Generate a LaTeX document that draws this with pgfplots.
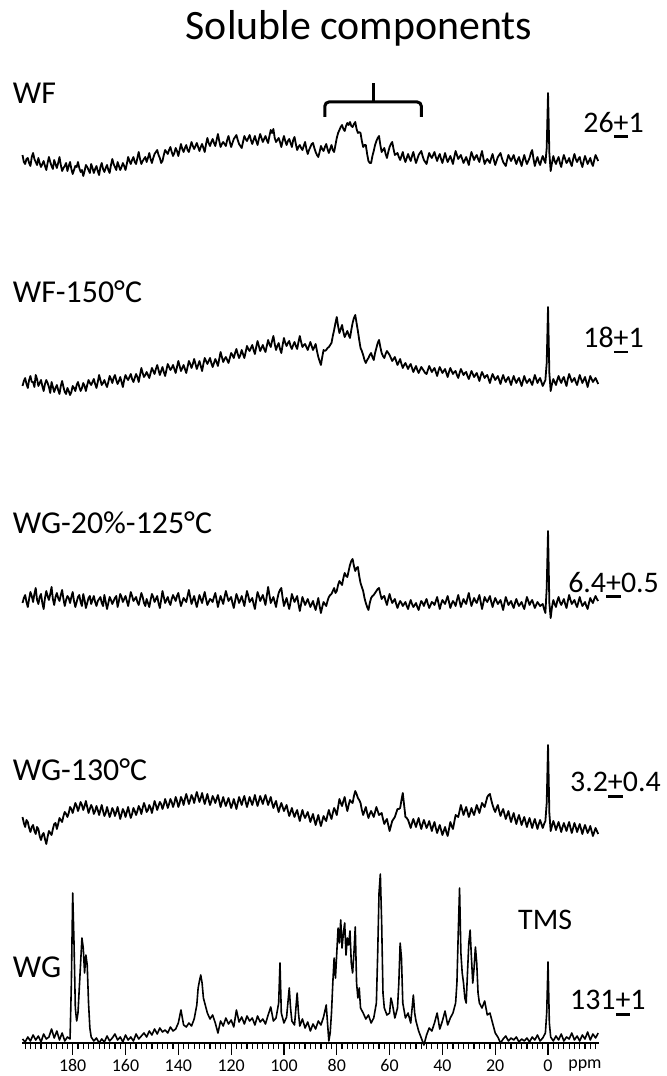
\documentclass[border=0pt]{standalone}
\usepackage{fontspec}
\setmainfont{Carlito}
\usepackage{pgfplots}
\usepackage{pgfplotstable}
\pgfplotsset{compat=1.18}
\newcommand\upm{\leavevmode\hbox{\ooalign{+\cr\hidewidth\rule[-0.2em]{0.48em}{0.09em}\hidewidth\cr}}}
\pgfplotstableread{
x wf wfa wgb wgc
199 888 657 440 226
198.5 881 662 445 220
198 879 665 448 216
197.5 884 659 441 223
197 885 655 436 221
196.5 880 663 444 215
196 877 667 451 211
195.5 886 661 447 216
195 890 661 441 218
194.5 884 656 449 212
194 881 668 455 209
193.5 878 664 443 216
193 885 657 439 214
192.5 880 660 446 207
192 876 663 449 203
191.5 879 657 440 208
191 882 652 434 210
190.5 877 659 445 204
190 873 663 452 199
189.5 880 660 447 206
189 886 656 443 212
188.5 881 650 449 210
188 877 661 456 208
187.5 874 656 444 214
187 883 651 438 219
186.5 879 655 446 220
186 875 658 450 214
185.5 880 653 445 219
185 886 649 442 225
184.5 878 657 448 223
184 872 662 453 221
183.5 875 656 444 227
183 877 651 437 231
182.5 880 649 443 229
182 872 655 447 226
181.5 877 652 445 230
181 881 648 440 236
180.5 874 651 446 234
180 869 657 451 230
179.5 873 655 442 235
179 877 652 436 240
178.5 876 658 441 237
178 881 661 446 232
177.5 875 656 448 236
177 871 652 441 241
176.5 873 655 437 238
176 867 660 449 233
175.5 872 657 443 237
175 878 652 435 242
174.5 876 658 440 236
174 873 663 445 230
173.5 870 660 447 234
173 879 658 439 238
172.5 875 661 443 235
172 870 664 447 229
171.5 874 659 441 232
171 877 655 437 237
170.5 872 661 442 233
170 868 668 444 228
169.5 876 663 446 233
169 880 658 440 238
168.5 874 660 437 232
168 871 663 448 227
167.5 875 659 441 230
167 878 656 434 236
166.5 873 661 440 231
166 870 667 446 226
165.5 878 664 443 230
165 884 660 439 235
164.5 879 665 442 232
164 876 668 445 227
163.5 873 663 447 231
163 881 659 436 236
162.5 877 662 442 230
162 873 666 449 224
161.5 876 661 446 229
161 880 656 441 234
160.5 877 663 444 231
160 873 668 447 226
159.5 879 665 442 231
159 886 663 437 236
158.5 882 666 444 230
158 879 669 451 225
157.5 883 664 447 229
157 886 661 442 235
156.5 881 665 444 232
156 879 669 446 228
155.5 885 666 441 232
155 891 661 438 237
154.5 884 668 444 234
154 879 675 450 229
153.5 882 670 446 235
153 884 666 440 240
152.5 886 668 437 236
152 881 671 444 231
151.5 885 668 440 233
151 890 665 436 238
150.5 884 670 443 235
150 880 675 449 230
149.5 885 672 446 236
149 889 669 441 242
148.5 891 674 444 238
148 893 678 447 233
147.5 888 673 440 237
147 885 668 435 241
146.5 880 672 443 239
146 882 676 452 234
145.5 888 671 446 238
145 893 667 440 244
144.5 891 673 443 240
144 889 679 446 235
143.5 893 676 441 239
143 896 673 438 244
142.5 891 675 444 241
142 887 678 448 236
141.5 890 674 445 240
141 895 670 442 246
140.5 892 676 447 242
140 887 682 450 236
139.5 893 677 443 240
139 899 672 437 246
138.5 894 675 441 243
138 891 678 445 238
137.5 895 674 443 244
137 898 670 441 249
136.5 893 676 447 244
136 891 682 453 239
135.5 896 679 446 243
135 901 675 439 248
134.5 897 679 443 245
134 894 684 447 240
133.5 897 679 441 246
133 900 674 436 251
132.5 896 678 442 246
132 892 682 448 241
131.5 896 677 444 245
131 899 672 440 250
130.5 895 679 446 244
130 891 685 451 239
129.5 899 682 444 244
129 905 679 438 249
128.5 900 682 441 243
128 897 685 444 238
127.5 901 680 443 242
127 904 676 441 247
126.5 900 680 446 244
126 897 684 450 240
125.5 903 681 443 244
125 909 677 436 248
124.5 902 684 442 242
124 896 691 447 236
123.5 899 686 443 241
123 901 681 439 246
122.5 899 684 446 241
122 897 686 452 237
121.5 903 683 447 241
121 907 680 442 245
120.5 901 685 444 240
120 896 690 446 235
119.5 900 688 440 239
119 904 685 435 244
118.5 906 690 442 239
118 908 694 449 234
117.5 903 689 445 240
117 899 685 440 246
116.5 897 688 443 242
116 895 693 447 238
115.5 901 689 442 243
115 907 685 437 247
114.5 904 691 445 241
114 902 697 452 236
113.5 905 694 447 241
113 908 692 441 246
112.5 903 695 443 242
112 899 698 445 238
111.5 903 693 439 243
111 907 689 434 248
110.5 902 696 443 242
110 898 702 451 237
109.5 904 697 447 242
109 909 692 442 247
108.5 905 695 445 243
108 901 698 448 239
107.5 904 694 443 244
107 907 691 438 248
106.5 903 697 447 243
106 900 703 456 238
105.5 907 699 448 242
105 913 696 440 246
104.5 910 702 443 240
104 914 707 446 235
103.5 905 699 441 239
103 901 693 436 242
102.5 903 697 444 236
102 905 700 450 231
101.5 901 694 453 236
101 896 690 455 240
100.5 902 698 445 236
100 907 705 437 232
99.5 902 700 441 235
99 898 697 445 238
98.5 902 700 439 232
98 904 702 434 227
97.5 900 697 441 231
97 896 694 449 235
96.5 903 698 445 230
96 906 701 441 226
95.5 899 697 444 230
95 893 694 447 233
94.5 896 701 439 227
94 898 707 432 222
93.5 895 701 439 228
93 893 696 446 233
92.5 897 698 442 228
92 901 699 438 225
91.5 894 696 441 228
91 889 693 444 231
90.5 893 697 440 226
90 896 701 436 221
89.5 899 697 439 225
89 900 693 442 229
88.5 895 696 437 223
88 891 699 433 218
87.5 888 692 439 223
87 886 686 445 228
86.5 891 682 437 222
86 897 678 430 217
85.5 894 686 436 222
85 892 693 441 227
84.5 896 692 439 224
84 899 693 437 222
83.5 894 695 442 228
83 890 696 446 233
82.5 894 698 448 228
82 898 700 449 224
81.5 893 707 452 230
81 891 713 455 235
80.5 898 720 450 232
80 905 726 452 228
79.5 910 717 458 236
79 913 710 462 244
78.5 916 714 460 240
78 918 718 458 237
77.5 914 711 465 242
77 912 706 470 246
76.5 917 709 467 238
76 920 712 466 232
75.5 918 708 472 238
75 921 705 478 243
74.5 917 713 482 241
74 916 720 484 240
73.5 919 725 477 247
73 921 728 472 252
72.5 914 720 475 249
72 910 712 476 245
71.5 911 703 467 243
71 910 695 460 240
70.5 902 692 456 233
70 896 688 452 228
69.5 898 683 445 232
69 898 680 440 236
68.5 889 683 436 230
68 882 685 433 225
67.5 880 688 440 229
67 880 690 445 232
66.5 887 686 447 229
66 892 683 448 226
65.5 898 690 450 231
65 902 695 452 236
64.5 905 700 454 232
64 907 703 455 228
63.5 898 696 449 229
63 891 690 444 230
62.5 893 687 446 224
62 895 685 447 219
61.5 889 689 442 222
61 885 692 438 224
60.5 891 690 444 218
60 896 688 449 212
59.5 899 685 444 217
59 901 682 440 222
58.5 894 684 442 224
58 888 686 444 226
57.5 889 682 439 230
57 890 678 435 234
56.5 886 681 439 234
56 883 684 442 235
55.5 887 679 440 243
55 891 675 437 250
54.5 885 678 439 238
54 881 680 441 226
53.5 885 677 437 225
53 889 674 434 223
52.5 885 677 439 219
52 882 679 443 215
51.5 887 675 439 220
51 891 671 436 224
50.5 885 674 438 220
50 880 677 440 216
49.5 884 673 436 221
49 888 670 433 225
48.5 890 673 438 219
48 892 676 442 214
47.5 887 674 440 219
47 883 672 437 223
46.5 881 670 441 219
46 879 669 444 215
45.5 885 673 439 218
45 890 677 435 222
44.5 887 674 438 217
44 885 671 441 212
43.5 888 673 440 217
43 891 675 438 221
42.5 886 671 442 215
42 882 667 446 210
41.5 886 672 440 214
41 889 676 434 218
40.5 884 673 439 213
40 880 670 443 208
39.5 885 672 441 212
39 890 674 439 216
38.5 885 670 443 211
38 881 666 447 207
37.5 884 671 441 214
37 887 675 435 221
36.5 883 672 439 217
36 879 669 442 214
35.5 886 671 440 221
35 892 672 437 228
34.5 888 668 443 227
34 884 665 448 226
33.5 886 670 442 232
33 888 674 436 238
32.5 884 671 440 233
32 880 668 444 228
31.5 883 670 441 232
31 886 671 439 236
30.5 882 667 445 231
30 878 664 450 226
29.5 885 668 443 230
29 891 672 437 235
28.5 887 669 441 231
28 883 666 445 228
27.5 886 668 442 233
27 888 670 440 238
26.5 884 666 444 234
26 881 662 448 230
25.5 887 667 441 235
25 892 671 434 240
24.5 885 668 440 238
24 879 665 446 236
23.5 882 667 443 241
23 884 668 441 246
22.5 882 664 444 248
22 880 660 447 249
21.5 885 665 441 243
21 889 669 436 238
20.5 883 666 441 234
20 878 663 445 231
19.5 882 665 442 235
19 886 667 439 238
18.5 888 663 441 232
18 890 659 443 227
17.5 885 664 438 231
17 881 668 433 234
16.5 879 664 440 229
16 877 661 446 224
15.5 883 664 442 228
15 888 666 438 232
14.5 885 662 440 226
14 882 658 442 221
13.5 885 663 438 226
13 888 667 435 230
12.5 883 663 440 224
12 879 660 444 219
11.5 883 663 440 224
11 886 665 437 228
10.5 881 661 439 223
10 877 657 441 218
9.5 883 662 437 222
9 888 667 434 226
8.5 883 663 440 221
8 879 660 446 216
7.5 882 662 442 221
7 885 664 438 225
6.5 890 661 441 220
6 893 658 443 215
5.5 884 663 439 220
5 877 668 435 224
4.5 882 664 438 219
4 886 660 441 214
3.5 881 663 439 219
3 878 665 437 223
2.5 883 661 438 219
2 887 657 439 215
1.5 883 660 434 219
1 880 663 430 222
0.5 895 680 455 240
0 950 736 512 298
-0.5 890 670 440 230
-1 872 652 425 212
-1.5 880 659 436 217
-2 887 664 443 222
-2.5 882 661 439 218
-3 879 658 436 213
-3.5 883 663 442 217
-4 886 667 446 221
-4.5 880 663 441 216
-5 876 660 438 211
-5.5 883 664 441 216
-6 888 666 444 220
-6.5 884 661 439 216
-7 880 657 435 212
-7.5 882 664 442 217
-8 885 669 448 221
-8.5 880 665 443 215
-9 877 661 439 210
-9.5 884 663 441 215
-10 889 665 443 220
-10.5 884 661 439 216
-11 881 658 436 211
-11.5 884 663 441 215
-12 886 668 446 219
-12.5 880 664 441 214
-13 876 660 437 209
-13.5 882 663 439 214
-14 887 666 441 218
-14.5 883 661 437 214
-15 879 656 434 210
-15.5 882 662 440 213
-16 885 667 445 217
-16.5 880 664 442 212
-17 877 661 440 207
-17.5 883 663 444 211
-18 888 665 447 215
-18.5 885 662 444 212
-19 882 659 442 209
}\spectra
\begin{document}
\begin{tikzpicture}
\path[use as bounding box] (-22bp,-33bp) rectangle (645bp,1043bp);
\begin{axis}[
  scale only axis, width=577bp, height=1000bp,
  xmin=-19.3, xmax=199.2, ymin=0, ymax=1000,
  x dir=reverse, clip=false,
  axis x line=bottom, axis y line=none,
  x axis line style={-, line width=1.4bp},
  xtick={0,20,...,180},
  minor xtick={-18,-16,...,198},
  tick align=outside,
  major tick length=12bp, minor tick length=6bp,
  every tick/.style={black, line width=1.2bp},
  /pgf/number format/assume math mode=true,
  xticklabel style={font=\fontsize{18}{18}\selectfont, yshift=-1bp},
]
\addplot[black, line width=1.8bp, line join=round] table[x=x, y=wf] {\spectra};
\addplot[black, line width=1.8bp, line join=round] table[x=x, y=wfa] {\spectra};
\addplot[black, line width=1.8bp, line join=round] table[x=x, y=wgb] {\spectra};
\addplot[black, line width=1.8bp, line join=round] table[x=x, y=wgc] {\spectra};
\addplot[black, line width=1.6bp, line join=round] coordinates {(199,4)(198,1)(197,6)(196,2)(195,8)(194,3)(193,7)(192,1)(191,9)(190,4)(189,6)(188,14)(187,5)(186,12)(185,3)(184,10)(183,2)(182,6)(181,4)(180.5,60)(180,150)(179.5,100)(179,35)(178.5,22)(178,30)(177.5,55)(177,80)(176.5,105)(176,95)(175.5,70)(175,88)(174.5,78)(174,40)(173.5,15)(173,6)(172,2)(171,5)(170,0)(169,4)(168,1)(167,7)(166,2)(165,5)(164,9)(163,3)(162,6)(161,1)(160,8)(159,3)(158,6)(157,2)(156,9)(155,4)(154,7)(153,10)(152,6)(151,12)(150,8)(149,14)(148,9)(147,15)(146,11)(145,13)(144,10)(143,16)(142,12)(141,14)(140,20)(139,33)(138,18)(137,16)(136,20)(135,17)(134,24)(133,38)(132.5,55)(132,62)(131.5,68)(131,60)(130.5,45)(130,40)(129,30)(128,24)(127,28)(126,20)(125,10)(124,22)(123,17)(122,25)(121,19)(120,23)(119,16)(118,33)(117,21)(116,26)(115,19)(114,27)(113,22)(112,25)(111,18)(110,27)(109,21)(108,24)(107,19)(106,28)(105,36)(104,22)(103,25)(102,40)(101.5,80)(101,30)(100,20)(99,26)(98,55)(97.5,35)(97,22)(96,18)(95,50)(94.5,30)(94,17)(93,24)(92,15)(91,21)(90,12)(89,19)(88,14)(87,22)(86,18)(85,26)(84,38)(83.5,20)(83,2)(82.5,10)(82,30)(81.5,60)(81,85)(80.5,65)(80,90)(79.5,115)(79,100)(78.5,123)(78,95)(77.5,110)(77,120)(76.5,88)(76,105)(75.5,98)(75,112)(74.5,80)(74,70)(73.5,90)(73,116)(72.5,60)(72,45)(71.5,55)(71,35)(70,30)(69,24)(68,28)(67,20)(66,25)(65,40)(64.5,90)(64,150)(63.5,169)(63,120)(62.5,50)(62,35)(61,28)(60,30)(59.5,45)(59,40)(58,25)(57,35)(56.5,60)(56,100)(55.5,85)(55,40)(54,25)(53,30)(52,20)(51,48)(50.5,30)(50,22)(49,12)(48,5)(47,-2)(46,8)(45,15)(44,12)(43,20)(42,30)(41,14)(40,22)(39,32)(38,18)(37,25)(36,30)(35,40)(34.5,60)(34,110)(33.5,155)(33,90)(32.5,70)(32,60)(31.5,45)(31,40)(30.5,70)(30,100)(29.5,113)(29,85)(28.5,60)(28,75)(27.5,96)(27,80)(26.5,50)(26,40)(25,35)(24,42)(23,28)(22,30)(21,20)(20,10)(19,6)(18,0)(17,4)(16,7)(15,2)(14,5)(13,3)(12,6)(11,1)(10,4)(9,2)(8,5)(7,1)(6,6)(5,3)(4,8)(3,2)(2,5)(1,10)(0.5,30)(0,81)(-0.5,20)(-1,6)(-2,2)(-3,7)(-4,3)(-5,9)(-6,2)(-7,6)(-8,4)(-9,10)(-10,3)(-11,7)(-12,2)(-13,8)(-14,4)(-15,11)(-16,3)(-17,9)(-18,5)(-19,10)};
% bracket
\draw[black, line width=3bp, rounded corners=4bp] (axis cs:84.5,926) -- (axis cs:84.5,941) -- (axis cs:48,941) -- (axis cs:48,926);
\draw[black, line width=3bp] (axis cs:66,941) -- (axis cs:66,960);
% texts
\node[font=\fontsize{42}{42}\selectfont] at (axis cs:71.6,1015) {Soluble components};
\node[anchor=west, inner sep=0pt, font=\fontsize{32}{32}\selectfont] at (axis cs:202.7,950) {WF};
\node[anchor=west, inner sep=0pt, font=\fontsize{32}{32}\selectfont] at (axis cs:202.7,751) {WF-150°C};
\node[anchor=west, inner sep=0pt, font=\fontsize{32}{32}\selectfont] at (axis cs:202.7,520) {WG-20\%-125°C};
\node[anchor=west, inner sep=0pt, font=\fontsize{32}{32}\selectfont] at (axis cs:202.7,273) {WG-130°C};
\node[anchor=west, inner sep=0pt, font=\fontsize{32}{32}\selectfont] at (axis cs:202.7,76) {WG};
\node[font=\fontsize{30}{30}\selectfont] at (axis cs:1.1,123) {TMS};
\node[anchor=west, inner sep=0pt, font=\fontsize{30}{30}\selectfont] at (axis cs:-13.3,918) {26\upm1};
\node[anchor=west, inner sep=0pt, font=\fontsize{30}{30}\selectfont] at (axis cs:-13.3,703) {18\upm1};
\node[anchor=west, inner sep=0pt, font=\fontsize{30}{30}\selectfont] at (axis cs:-7.6,458) {6.4\upm0.5};
\node[anchor=west, inner sep=0pt, font=\fontsize{30}{30}\selectfont] at (axis cs:-8.3,258) {3.2\upm0.4};
\node[anchor=west, inner sep=0pt, font=\fontsize{30}{30}\selectfont] at (axis cs:-8.3,40) {131\upm1};
\node[font=\fontsize{18}{18}\selectfont] at (axis cs:-14,-23) {ppm};
\end{axis}
\end{tikzpicture}
\end{document}
